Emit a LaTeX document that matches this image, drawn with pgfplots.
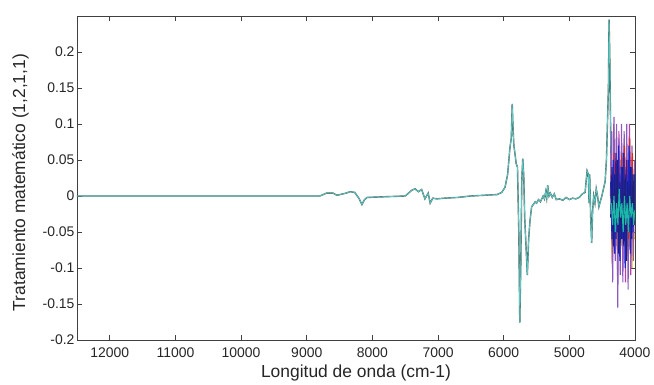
\documentclass[border=0pt]{standalone}
\usepackage{pgfplots}
\pgfplotsset{compat=1.18}
\usepackage{fontspec}
\setmainfont{Liberation Sans}
\definecolor{mdark}{rgb}{0.30,0.40,0.38}
\definecolor{mcyan}{rgb}{0.35,0.80,0.78}
\definecolor{sblue}{rgb}{0.10,0.15,0.80}
\definecolor{spurple}{rgb}{0.55,0.35,0.75}
\definecolor{sred}{rgb}{0.85,0.15,0.15}
\definecolor{smag}{rgb}{0.72,0.25,0.65}
\definecolor{snavy}{rgb}{0.12,0.12,0.45}
\definecolor{syel}{rgb}{0.92,0.75,0.15}
\definecolor{steal}{rgb}{0.10,0.72,0.66}
\pgfplotstableread{
w v
12500 0
8800 0
8700 0.004
8600 0.004
8540 0.001
8400 0.004
8340 0.006
8270 0.005
8200 -0.004
8160 -0.012
8120 -0.005
8080 -0.002
7800 -0.001
7500 0
7400 0.008
7350 0.010
7300 0.006
7250 0.009
7200 -0.004
7150 0.004
7120 -0.010
7080 -0.003
7020 -0.004
6900 -0.003
6700 -0.002
6500 0
6100 0.002
6030 0.005
5980 0.012
5940 0.030
5905 0.067
5885 0.080
5870 0.128
5860 0.100
5845 0.070
5830 0.060
5810 0.045
5790 0.040
5770 -0.050
5755 -0.176
5740 -0.100
5725 0.020
5710 0.052
5695 0.030
5680 -0.030
5660 -0.070
5640 -0.110
5620 -0.060
5600 -0.035
5575 -0.015
5550 -0.012
5520 -0.008
5500 -0.010
5470 -0.005
5440 -0.008
5400 0.000
5380 -0.004
5360 0.006
5345 -0.003
5330 0.015
5310 0.000
5290 0.004
5260 -0.002
5230 0.003
5200 -0.005
5150 -0.004
5100 -0.006
5050 -0.002
5000 -0.005
4950 -0.003
4900 -0.004
4850 -0.002
4800 0.003
4760 0.005
4730 0.035
4710 0.030
4700 -0.010
4690 0.030
4675 -0.030
4660 -0.065
4645 -0.020
4630 0.000
4610 -0.010
4590 0.010
4570 0.000
4550 -0.015
4530 -0.008
4505 0.000
4480 0.010
4455 0.020
4435 0.050
4420 0.100
4405 0.150
4395 0.245
4385 0.200
4375 0.120
4365 0.050
4350 0.000
4330 -0.030
4310 0.020
4290 -0.060
4270 0.030
4250 -0.040
4230 0.050
4210 -0.020
4190 0.060
4170 -0.050
4150 0.040
4130 -0.030
4110 0.050
4090 -0.070
4070 0.030
4050 -0.040
4030 0.020
4010 -0.030
4000 0.000
}\mainspec
\pgfplotstableread{
w v
4370 0.02
4350 -0.06
4330 0.05
4310 -0.08
4290 0.06
4270 -0.05
4250 0.07
4230 -0.09
4210 0.04
4190 -0.06
4170 0.06
4150 -0.10
4130 0.05
4110 -0.04
4090 0.07
4070 -0.08
4050 0.04
4030 -0.05
4010 0.03
4000 -0.02
}\sA
\pgfplotstableread{
w v
4375 0.00
4355 0.09
4340 -0.12
4320 0.11
4300 -0.09
4280 0.10
4262 -0.155
4245 0.08
4225 -0.11
4205 0.10
4185 -0.12
4165 0.09
4145 -0.08
4125 0.10
4105 -0.13
4085 0.08
4065 -0.10
4045 0.07
4025 -0.09
4005 0.05
}\sB
\pgfplotstableread{
w v
4360 0.03
4340 -0.02
4320 0.06
4300 -0.04
4280 0.05
4260 -0.03
4240 0.04
4220 -0.02
4200 0.06
4180 -0.05
4160 0.07
4140 -0.03
4120 0.05
4100 -0.06
4080 0.08
4060 -0.04
4040 0.06
4020 -0.03
4000 0.02
}\sC
\pgfplotstableread{
w v
4365 0.06
4345 -0.10
4325 0.10
4305 -0.07
4285 0.08
4265 -0.12
4245 0.09
4225 -0.08
4205 0.07
4185 -0.10
4165 0.08
4145 -0.12
4125 0.06
4105 -0.09
4085 0.10
4065 -0.11
4045 0.05
4025 -0.07
4005 0.04
}\sD
\pgfplotstableread{
w v
4370 -0.03
4350 0.04
4330 -0.07
4310 0.03
4290 -0.06
4270 0.05
4250 -0.08
4230 0.02
4210 -0.06
4190 0.04
4170 -0.07
4150 0.03
4130 -0.09
4110 0.02
4090 -0.05
4070 0.04
4050 -0.06
4030 0.03
4010 -0.04
}\sE
\pgfplotstableread{
w v
4360 -0.05
4345 -0.09
4330 -0.03
4315 -0.08
4300 -0.04
4280 -0.07
4260 -0.02
4240 -0.06
4220 -0.03
4200 -0.07
4180 -0.02
4160 -0.06
4140 -0.03
4120 -0.08
4100 -0.04
4080 -0.07
4060 -0.05
4045 -0.10
4030 -0.04
4010 -0.06
}\sF
\pgfplotstableread{
w v
4360 -0.01
4340 -0.04
4320 0.00
4300 -0.05
4280 -0.01
4260 -0.04
4240 0.01
4220 -0.03
4200 -0.01
4180 -0.05
4160 0.00
4140 -0.04
4120 -0.01
4100 -0.05
4080 0.00
4060 -0.03
4040 -0.01
4020 -0.04
4005 -0.02
}\sG
\begin{document}
\begin{tikzpicture}
\begin{axis}[
  scale only axis, width=558bp, height=324bp,
  x dir=reverse,
  xmin=4000, xmax=12500, ymin=-0.2, ymax=0.25,
  xtick={4000,5000,6000,7000,8000,9000,10000,11000,12000},
  xticklabels={4000,5000,6000,7000,8000,9000,10000,11000,12000},
  ytick={-0.2,-0.15,-0.1,-0.05,0,0.05,0.1,0.15,0.2},
  yticklabels={-0.2,-0.15,-0.1,-0.05,0,0.05,0.1,0.15,0.2},
  scaled x ticks=false, scaled y ticks=false,
  tick align=inside, major tick length=5bp,
  tick style={black!75, line width=0.7bp},
  axis line style={black!75, line width=0.9bp},
  /pgf/number format/assume math mode=true,
  tick label style={font=\fontsize{14}{16}\selectfont, text=black!85},
  xticklabel style={yshift=-4bp},
  yticklabel style={xshift=1bp},
  label style={font=\fontsize{17.5}{20}\selectfont, text=black!85},
  xlabel={Longitud de onda (cm-1)},
  ylabel={Tratamiento matemático (1,2,1,1)},
  xlabel style={at={(axis description cs:0.5,-0.117)}, anchor=base},
  ylabel style={at={(axis description cs:-0.093,0.486)}, anchor=base},
  clip=true,
]
\addplot[mdark, line width=1.4bp] table[x=w,y=v] {\mainspec};
\addplot[mcyan, line width=0.7bp] table[x=w,y=v] {\mainspec};
\addplot[syel, line width=1.1bp] table[x=w,y=v] {\sF};
\addplot[smag, line width=1.1bp] table[x=w,y=v] {\sD};
\addplot[spurple, line width=1.1bp] table[x=w,y=v] {\sB};
\addplot[sred, line width=1.1bp] table[x=w,y=v] {\sC};
\addplot[sblue, line width=1.2bp] table[x=w,y=v] {\sA};
\addplot[snavy, line width=1.1bp] table[x=w,y=v] {\sE};
\addplot[steal, line width=1.1bp] table[x=w,y=v] {\sG};
\end{axis}
\path[use as bounding box] ([shift={(-77bp,-44bp)}]current axis.south west) rectangle ([shift={(19bp,16bp)}]current axis.north east);
\end{tikzpicture}
\end{document}
